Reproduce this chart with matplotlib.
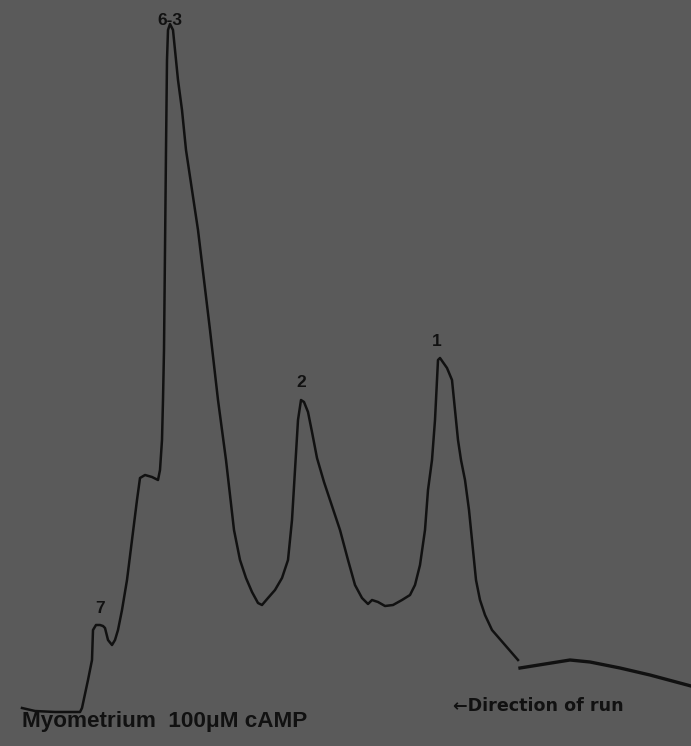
import matplotlib.pyplot as plt
import numpy as np

# densitometer trace (position along strip, density)
pos_main = [22, 35, 55, 80, 82, 85, 88, 92, 93, 96, 100, 103, 105, 108, 112, 115, 118,
            122, 127, 132, 137, 140, 145, 152, 158, 160, 162, 163, 164, 165, 166, 167,
            168, 170, 173, 175, 178, 182, 186, 192, 198, 204, 210, 218, 226, 234, 240,
            246, 252, 258, 262, 268, 275, 282, 288, 292, 295, 298, 301, 304, 308, 312,
            317, 324, 332, 340, 348, 355, 362, 368, 372, 378, 385, 393, 402, 410,
            415, 420, 425, 428, 430, 432, 435, 437, 438, 440, 447, 452, 454, 456, 458,
            461, 465, 469, 472, 476, 480, 485, 492, 505, 518]
dens_main = [38, 35, 34, 34, 38, 52, 66, 86, 116, 121, 121, 120, 118, 106, 101, 106, 116,
             136, 166, 206, 246, 268, 271, 269, 266, 276, 306, 346, 396, 496, 596, 686,
             716, 722, 716, 696, 666, 636, 596, 556, 516, 466, 416, 346, 286, 216, 186,
             168, 154, 143, 141, 148, 156, 168, 186, 226, 276, 326, 346, 344, 334, 314,
             288, 264, 240, 216, 186, 161, 148, 142, 146, 144, 140, 141, 146, 151,
             161, 181, 216, 256, 271, 286, 326, 366, 386, 388, 378, 366, 346, 326, 306,
             286, 266, 236, 206, 166, 146, 131, 116, 101, 86]

pos_tail = [520, 545, 570, 590, 620, 650, 691]
dens_tail = [78, 82, 86, 84, 78, 71, 60]

labels = ["7", "6-3", "2", "1"]
label_pos = [100, 170, 301, 437]
label_dens = [130, 718, 356, 397]

fig = plt.figure(figsize=(6.91, 7.46), dpi=100)
fig.patch.set_facecolor("#5a5a5a")
ax = fig.add_axes([0, 0, 1, 1])
ax.set_facecolor("#5a5a5a")
ax.set_xlim(0, 691)
ax.set_ylim(0, 746)
ax.axis("off")

ax.plot(pos_main, dens_main, color="#111111", lw=1.8, solid_joinstyle="round")
ax.plot(pos_tail, dens_tail, color="#111111", lw=2.4)

for t, x, y in zip(labels, label_pos, label_dens):
    ax.text(x, y, t, ha="center", va="bottom", fontsize=12.5, fontweight="bold",
            color="#111111", family="Liberation Sans")

ax.text(22, 24, "Myometrium  100\u03bcM cAMP", ha="left", va="center", fontsize=16.2,
        fontweight="bold", color="#111111", family="Liberation Sans")
ax.text(453, 40, "\u2190Direction of run", ha="left", va="center", fontsize=12.6,
        fontweight="bold", color="#111111", family="DejaVu Sans")

fig.savefig("out.png", dpi=100, facecolor=fig.get_facecolor())
